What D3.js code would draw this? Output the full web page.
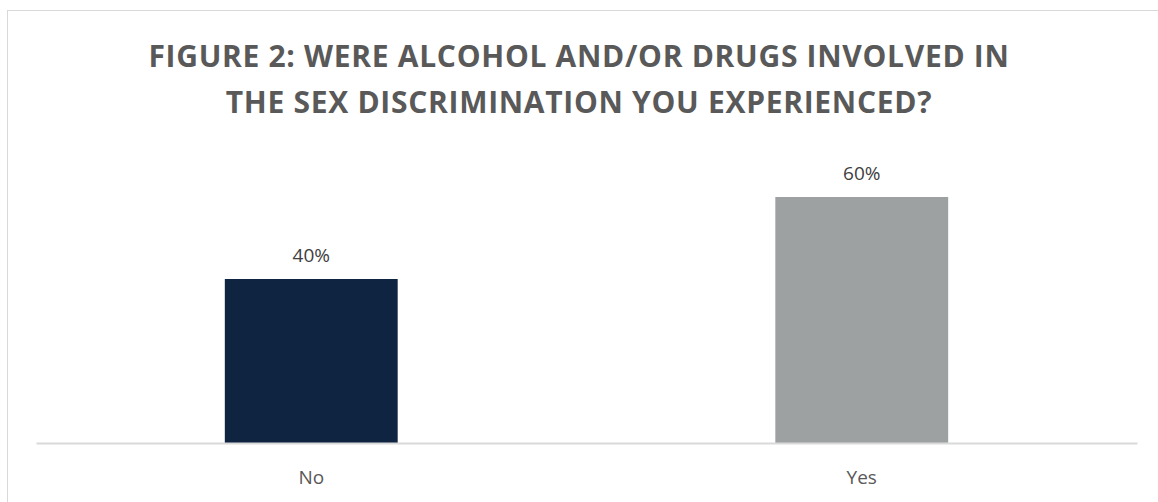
<!DOCTYPE html>
<html>
<head>
<meta charset="utf-8">
<script src="https://cdn.jsdelivr.net/npm/d3@7"></script>
<style>
  body { margin: 0; background: #fff; }
  svg { display: block; font-family: "Open Sans", sans-serif; }
</style>
</head>
<body>
<svg id="chart" width="1158" height="502"></svg>
<script>
// data
var categories = ["No", "Yes"];
var values = [40, 60];
var barColors = ["#0f2441", "#9da1a2"];
var titleLines = [
  "FIGURE 2: WERE ALCOHOL AND/OR DRUGS INVOLVED IN",
  "THE SEX DISCRIMINATION YOU EXPERIENCED?"
];

var width = 1158, height = 502;
var svg = d3.select("#chart");

// chart frame (runs off the right and bottom edge)
svg.append("rect")
  .attr("x", 7.5).attr("y", 10.5)
  .attr("width", 1170).attr("height", 520)
  .attr("fill", "none")
  .attr("stroke", "#d9d9d9");

svg.append("g")
  .selectAll("text")
  .data(titleLines)
  .enter().append("text")
  .attr("x", 579)
  .attr("y", (d, i) => 67 + i * 46)
  .attr("text-anchor", "middle")
  .attr("font-size", "30px")
  .attr("font-weight", "bold")
  .attr("letter-spacing", "0.7px")
  .attr("fill", "#595959")
  .text(d => d);

var x = d3.scaleBand()
  .domain(categories)
  .range([36, 1137])
  .paddingInner(0.686)
  .paddingOuter(0.343);

var y = d3.scaleLinear()
  .domain([0, 70])
  .range([443, 156]);

svg.append("g")
  .selectAll("rect")
  .data(values)
  .enter().append("rect")
  .attr("x", (d, i) => x(categories[i]))
  .attr("y", d => y(d))
  .attr("width", x.bandwidth())
  .attr("height", d => y(0) - y(d))
  .attr("fill", (d, i) => barColors[i]);

// value labels
svg.append("g")
  .selectAll("text")
  .data(values)
  .enter().append("text")
  .attr("x", (d, i) => x(categories[i]) + x.bandwidth() / 2)
  .attr("y", d => y(d) - 17)
  .attr("text-anchor", "middle")
  .attr("font-size", "19px")
  .attr("fill", "#404040")
  .text(d => d + "%");

// x axis
var axis = svg.append("g")
  .attr("transform", `translate(0,${y(0)})`)
  .call(d3.axisBottom(x).tickSize(0).tickPadding(28).tickSizeOuter(0));
axis.select(".domain").attr("stroke", "#d9d9d9").attr("stroke-width", 2);
axis.selectAll("text")
  .attr("font-family", "Open Sans, sans-serif")
  .attr("font-size", "19px")
  .attr("fill", "#595959");
</script>
</body>
</html>
